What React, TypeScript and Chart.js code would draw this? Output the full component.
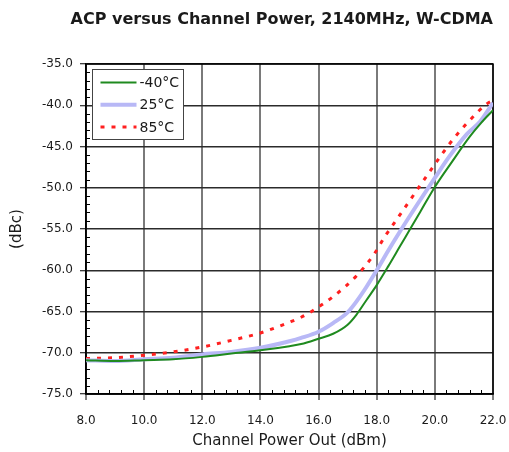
import { useEffect, useRef } from 'react';
import { Chart, registerables } from 'chart.js';

Chart.register(...registerables);

const TITLE = 'ACP versus Channel Power, 2140MHz, W-CDMA';
const X_TITLE = 'Channel Power Out (dBm)';
const Y_TITLE = '(dBc)';
const SERIES_NAMES = ['-40°C', '25°C', '85°C'];

const X_MIN = 8;
const X_MAX = 22;
const X_STEP = 2;
const X_MINOR = 0.4;
const Y_MIN = -75;
const Y_MAX = -35;
const Y_STEP = 5;
const Y_MINOR = 1;

const xM40 = [8, 9, 10, 11, 12, 13, 14, 15, 15.4, 16, 16.5, 17, 17.3, 17.65, 18, 18.4, 18.8, 19.15, 19.5, 20, 20.6, 21.2, 21.6, 22];
const yM40 = [-70.9, -71.0, -70.9, -70.8, -70.5, -70.1, -69.7, -69.2, -68.95, -68.3, -67.7, -66.6, -65.4, -63.6, -61.8, -59.5, -57.1, -55.0, -52.9, -49.9, -46.8, -43.8, -42.1, -40.6];

const x25 = [8, 9, 10, 11, 12, 13, 14, 15, 15.4, 16, 16.5, 17, 17.3, 17.65, 18, 18.4, 18.8, 19.4, 20, 20.5, 21.1, 21.55, 22];
const y25 = [-70.9, -71.0, -70.8, -70.6, -70.2, -69.9, -69.4, -68.6, -68.2, -67.45, -66.4, -65.1, -63.8, -62.0, -60.0, -57.6, -55.3, -52.0, -48.8, -46.2, -43.5, -42.0, -39.7];

const x85 = [8, 9, 10, 11, 12, 13, 14, 15, 15.4, 15.8, 16.5, 17.3, 17.9, 18.3, 18.6, 19.4, 19.95, 20.5, 21.1, 21.8, 22];
const y85 = [-70.7, -70.6, -70.3, -69.9, -69.3, -68.5, -67.6, -66.3, -65.7, -64.9, -63.2, -60.7, -58.1, -55.8, -54.3, -50.2, -47.4, -44.7, -42.2, -39.8, -39.4];

const TEXT = '#1a1a1a';
const FONT = '"DejaVu Sans", Verdana, sans-serif';

const toPoints = (xs: number[], ys: number[]) => xs.map((x, i) => ({ x, y: ys[i] }));

const framePlugin = {
  id: 'frameAndMinor',
  beforeDatasetsDraw(chart: any) {
    const { ctx, chartArea, scales } = chart;
    const xs = scales.x;
    const ys = scales.y;
    ctx.save();
    ctx.strokeStyle = '#000';
    ctx.lineWidth = 1;
    ctx.beginPath();
    for (let v = Y_MIN; v <= Y_MAX + 1e-9; v += Y_MINOR) {
      if (Math.abs(v % Y_STEP) < 1e-6) continue;
      const py = Math.round(ys.getPixelForValue(v)) + 0.5;
      ctx.moveTo(chartArea.left, py);
      ctx.lineTo(chartArea.left + 4, py);
    }
    const n = Math.round((X_MAX - X_MIN) / X_MINOR);
    for (let i = 0; i <= n; i++) {
      if (i % Math.round(X_STEP / X_MINOR) === 0) continue;
      const v = X_MIN + i * X_MINOR;
      const px = Math.round(xs.getPixelForValue(v)) + 0.5;
      ctx.moveTo(px, chartArea.bottom);
      ctx.lineTo(px, chartArea.bottom - 4);
    }
    ctx.stroke();
    ctx.lineWidth = 1.5;
    ctx.strokeRect(chartArea.left, chartArea.top, chartArea.right - chartArea.left, chartArea.bottom - chartArea.top);
    ctx.restore();
  },
};

const legendPlugin = {
  id: 'insideLegend',
  afterDatasetsDraw(chart: any) {
    const { ctx, chartArea } = chart;
    const x0 = chartArea.left + 6.5;
    const y0 = chartArea.top + 5.5;
    const w = 91;
    const h = 70;
    ctx.save();
    ctx.fillStyle = '#fff';
    ctx.fillRect(x0, y0, w, h);
    ctx.strokeStyle = '#444';
    ctx.lineWidth = 1;
    ctx.strokeRect(x0, y0, w, h);
    chart.data.datasets.forEach((ds: any, i: number) => {
      const cy = y0 + 13 + i * 22.3;
      ctx.beginPath();
      ctx.strokeStyle = ds.borderColor;
      ctx.lineWidth = ds.borderWidth;
      ctx.setLineDash(ds.borderDash || []);
      ctx.moveTo(x0 + 8, cy);
      ctx.lineTo(x0 + 44, cy);
      ctx.stroke();
      ctx.setLineDash([]);
      ctx.fillStyle = TEXT;
      ctx.font = '14px ' + FONT;
      ctx.textBaseline = 'middle';
      ctx.textAlign = 'left';
      ctx.fillText(ds.label, x0 + 47, cy + 1);
    });
    ctx.restore();
  },
};

export default function App() {
  const ref = useRef<HTMLCanvasElement | null>(null);

  useEffect(() => {
    if (!ref.current) return;
    const line = { pointRadius: 0, fill: false, cubicInterpolationMode: 'monotone' as const };
    const chart = new Chart(ref.current, {
      type: 'line',
      data: {
        datasets: [
          { ...line, label: SERIES_NAMES[0], data: toPoints(xM40, yM40), borderColor: '#1f8a1f', borderWidth: 2 },
          { ...line, label: SERIES_NAMES[1], data: toPoints(x25, y25), borderColor: '#b8b8f6', borderWidth: 4 },
          { ...line, label: SERIES_NAMES[2], data: toPoints(x85, y85), borderColor: '#ff2020', borderWidth: 3, borderDash: [4, 7] },
        ],
      },
      options: {
        animation: false,
        responsive: false,
        maintainAspectRatio: false,
        layout: { padding: { top: 0, right: 16, bottom: 0, left: 0 } },
        plugins: {
          legend: { display: false },
          tooltip: { enabled: false },
          title: {
            display: true,
            text: TITLE,
            align: 'end',
            fullSize: true,
            color: TEXT,
            font: { family: FONT, size: 16, weight: 'bold' },
            padding: { top: 10.5, bottom: 34.3 },
          },
        },
        scales: {
          x: {
            type: 'linear',
            min: X_MIN,
            max: X_MAX,
            afterFit: (s: any) => {
              s.height = 58;
              s.paddingRight = 0;
              s.paddingLeft = 0;
            },
            ticks: {
              stepSize: X_STEP,
              color: TEXT,
              font: { family: FONT, size: 12 },
              padding: 14,
              maxRotation: 0,
              callback: (v: any) => Number(v).toFixed(1),
            },
            grid: {
              color: '#7a7a7a',
              lineWidth: 2,
              tickLength: 6,
              tickColor: '#000',
              tickWidth: 1,
            },
            border: { display: true, color: '#000', width: 1.5 },
            title: {
              display: true,
              text: X_TITLE,
              color: TEXT,
              font: { family: FONT, size: 15 },
              padding: { top: 0, bottom: 2 },
            },
          },
          y: {
            type: 'linear',
            min: Y_MIN,
            max: Y_MAX,
            afterFit: (s: any) => {
              s.width = 86;
            },
            ticks: {
              stepSize: Y_STEP,
              color: TEXT,
              font: { family: FONT, size: 12 },
              padding: 7,
              callback: (v: any) => Number(v).toFixed(1),
            },
            grid: {
              color: '#2b2b2b',
              lineWidth: 1.5,
              tickLength: 6,
              tickColor: '#000',
              tickWidth: 1,
            },
            border: { display: true, color: '#000', width: 1.5 },
            title: {
              display: true,
              text: Y_TITLE,
              color: TEXT,
              font: { family: FONT, size: 15 },
              padding: { top: 8, bottom: 0 },
            },
          },
        },
      },
      plugins: [framePlugin, legendPlugin],
    });
    return () => chart.destroy();
  }, []);

  return (
    <div style={{ position: 'fixed', left: 0, top: 0, width: 509, height: 452, background: '#fff' }}>
      <canvas ref={ref} width={509} height={452} style={{ width: 509, height: 452, display: 'block' }} />
    </div>
  );
}
